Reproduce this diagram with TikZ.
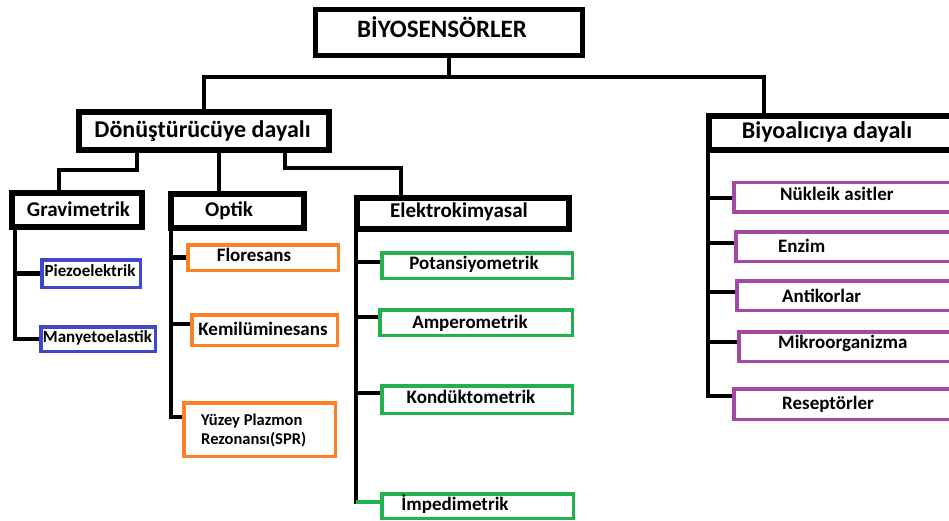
\documentclass[tikz,border=0pt]{standalone}
\usepackage{fontspec}
\setmainfont{Carlito}
\definecolor{pblue}{HTML}{3F48CC}
\definecolor{porange}{HTML}{FF7F27}
\definecolor{pgreen}{HTML}{22B14C}
\definecolor{ppurple}{HTML}{A349A4}
\pgfdeclarelayer{paper}
\pgfdeclarelayer{lines}
\pgfsetlayers{paper,lines,main}
\begin{document}
\begin{tikzpicture}[x=1pt,y=-1pt,
  conn/.style={line width=4.5pt, black, line join=miter},
  topbox/.style={draw=black, line width=5pt, fill=white, inner sep=0pt},
  secbox/.style={draw=black, line width=6pt, fill=white, inner sep=0pt},
  leaf/.style={draw=#1, line width=3.5pt, fill=white, inner sep=0pt},
  lbl/.style={inner sep=0pt, text=black},
  tTop/.style={lbl, font=\fontsize{25}{30}\selectfont\bfseries, text height=16pt, text depth=5pt},
  tBig/.style={lbl, font=\fontsize{24}{29}\selectfont\bfseries, text height=15.5pt, text depth=5pt},
  tSec/.style={lbl, font=\fontsize{21}{25}\selectfont\bfseries, text height=13.5pt, text depth=4pt},
  tLeaf/.style={lbl, font=\fontsize{19}{23}\selectfont\bfseries, text height=12pt, text depth=4pt},
  tSmall/.style={lbl, font=\fontsize{17}{20}\selectfont\bfseries, text height=11pt, text depth=3.5pt},
  tTiny/.style={lbl, font=\fontsize{16.5}{19}\selectfont\bfseries, text height=10.5pt, text depth=3.5pt},
]
\useasboundingbox (0,0) rectangle (949,521);
\clip (0,0) rectangle (949,521);
\begin{pgfonlayer}{paper}
\fill[white] (0,0) rectangle (949,521);
\end{pgfonlayer}

% ---- boxes ----
\node[topbox, minimum width=267pt, minimum height=46pt] (top) at (449,32.5) {};
\node[secbox, minimum width=250pt, minimum height=38pt] (don) at (204,131) {};
\node[secbox, minimum width=278pt, minimum height=34pt] (biy) at (848,133) {};
\node[secbox, minimum width=130pt, minimum height=34pt] (grav) at (77,210) {};
\node[secbox, minimum width=133pt, minimum height=34pt] (opt) at (237.5,211) {};
\node[secbox, minimum width=212pt, minimum height=31pt] (elek) at (463,213.5) {};

\node[leaf=pblue, minimum width=98.5pt, minimum height=27.5pt] (piezo) at (91,273.5) {};
\node[leaf=pblue, minimum width=114.5pt, minimum height=24.5pt] (many) at (98,339) {};

\node[leaf=porange, minimum width=150.5pt, minimum height=25.5pt] (flor) at (263,257.5) {};
\node[leaf=porange, minimum width=145.5pt, minimum height=30.5pt] (kemi) at (264.5,330) {};
\node[leaf=porange, minimum width=151.5pt, minimum height=53.5pt] (spr) at (259.5,429.5) {};

\node[leaf=pgreen, minimum width=190.5pt, minimum height=25.5pt] (pot) at (477,265.5) {};
\node[leaf=pgreen, minimum width=192.5pt, minimum height=25.5pt] (amp) at (476,322.5) {};
\node[leaf=pgreen, minimum width=190.5pt, minimum height=27.5pt] (kond) at (477,399.5) {};
\node[leaf=pgreen, minimum width=191.5pt, minimum height=24.5pt] (imp) at (477.5,506) {};

\node[leaf=ppurple, minimum width=254.5pt, minimum height=29.5pt] (nuk) at (861,197.5) {};
\node[leaf=ppurple, minimum width=252.5pt, minimum height=29.5pt] (enz) at (862,246.5) {};
\node[leaf=ppurple, minimum width=251.5pt, minimum height=29.5pt] (ant) at (862.5,295.5) {};
\node[leaf=ppurple, minimum width=249.5pt, minimum height=29.5pt] (mik) at (863.5,346.5) {};
\node[leaf=ppurple, minimum width=254.5pt, minimum height=30.5pt] (res) at (861,404) {};

% ---- connectors, kept beneath the boxes ----
\coordinate (bus) at (449,77);
\coordinate (busR) at (764,77);
\coordinate (gravJ) at (59,170);
\coordinate (elekJ) at (401,168);
\coordinate (gT) at (15,0);
\coordinate (oT) at (171,0);
\coordinate (eT) at (356,0);
\coordinate (bT) at (708,0);

\begin{pgfonlayer}{lines}
% top level
\draw[conn] (top.south) -- (bus) -| (don.north);
\draw[conn] (bus) -- (busR) -- (busR |- biy.north);
% transducer branch
\draw[conn] (don.south -| 137,0) |- (gravJ) -- (gravJ |- grav.north);
\draw[conn] (don.south -| 219,0) -- (opt.north -| 219,0);
\draw[conn] (don.south -| 285,0) |- (elekJ) -- (elekJ |- elek.north);
% gravimetric
\draw[conn] (grav.south -| gT) |- (many.west);
\draw[conn] (piezo.west -| gT) -- (piezo.west);
% optical
\draw[conn] (opt.south -| oT) |- (spr.west |- 0,417);
\draw[conn] (flor.west -| oT) -- (flor.west);
\draw[conn] (oT |- 0,324) -- (kemi.west |- 0,324);
% electrochemical
\draw[conn] (elek.south -| eT) -- (eT |- 0,504);
\draw[conn] (eT |- 0,262) -- (pot.west |- 0,262);
\draw[conn] (eT |- 0,317) -- (amp.west |- 0,317);
\draw[conn] (eT |- 0,393) -- (kond.west |- 0,393);
\draw[pgreen, line width=3.4pt] (eT |- 0,502) -- (imp.west |- 0,502);
% bioreceptor
\draw[conn] (biy.south -| bT) |- (res.west |- 0,396);
\draw[conn] (bT |- 0,198) -- (nuk.west |- 0,198);
\draw[conn] (bT |- 0,243) -- (enz.west |- 0,243);
\draw[conn] (bT |- 0,292) -- (ant.west |- 0,292);
\draw[conn] (bT |- 0,342) -- (mik.west |- 0,342);
\end{pgfonlayer}

% ---- labels ----
\node[tTop] (topT) at (442,32) {BİYOSENSÖRLER};
\node[tBig] (donT) at (202.5,132) {Dönüştürücüye dayalı};
\node[tBig] (biyT) at (827,133) {Biyoalıcıya dayalı};
\node[tSec] (gravT) at (78.5,212) {Gravimetrik};
\node[tSec] (optT) at (229,212) {Optik};
\node[tSec] (elekT) at (459,213) {Elektrokimyasal};

\node[tSmall] (piezoT) at (90,273) {Piezoelektrik};
\node[tSmall] (manyT) at (97.5,339) {Manyetoelastik};

\node[tLeaf] (florT) at (254,257) {Floresans};
\node[tLeaf] (kemiT) at (263,331) {Kemilüminesans};
\node[tTiny, anchor=west] (sprT1) at (201,422) {Yüzey Plazmon};
\node[tTiny, anchor=west] (sprT2) at (201,441) {Rezonansı(SPR)};

\node[tLeaf] (potT) at (474,265) {Potansiyometrik};
\node[tLeaf] (ampT) at (470,324) {Amperometrik};
\node[tLeaf] (kondT) at (471,399) {Kondüktometrik};
\node[tLeaf] (impT) at (455,506) {İmpedimetrik};

\node[tLeaf, anchor=west] (nukT) at (780,197) {Nükleik asitler};
\node[tLeaf, anchor=west] (enzT) at (778,248) {Enzim};
\node[tLeaf, anchor=west] (antT) at (782,298) {Antikorlar};
\node[tLeaf, anchor=west] (mikT) at (778,344) {Mikroorganizma};
\node[tLeaf, anchor=west] (resT) at (782,405) {Reseptörler};
\end{tikzpicture}
\end{document}
